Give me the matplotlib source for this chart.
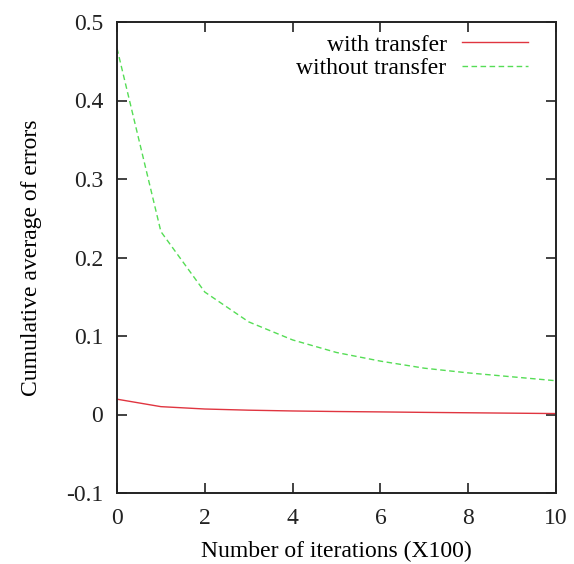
import matplotlib
matplotlib.use("Agg")
import matplotlib.pyplot as plt

iterations = [0, 1, 2, 3, 4, 5, 6, 7, 8, 9, 10]
with_transfer = [0.0195, 0.010, 0.007, 0.0055, 0.0045, 0.0038, 0.0033, 0.0027, 0.0022, 0.0017, 0.0012]
without_transfer = [0.4665, 0.233, 0.156, 0.118, 0.095, 0.079, 0.068, 0.059, 0.053, 0.048, 0.043]
xticks = [0, 2, 4, 6, 8, 10]
yticks = [-0.1, 0, 0.1, 0.2, 0.3, 0.4, 0.5]
ytick_labels = ["-0.1", "0", "0.1", "0.2", "0.3", "0.4", "0.5"]

plt.rcParams['font.family'] = ['Liberation Serif', 'DejaVu Serif']
fig = plt.figure(figsize=(5.74, 5.64), dpi=100)
ax = fig.add_axes([117/574, 1 - 493/564, (556 - 117)/574, (493 - 22)/564])

ax.plot(iterations, with_transfer, color='#e03540', lw=1.0, label='with transfer')
ax.plot(iterations, without_transfer, color='#55dd55', lw=1.0, dashes=(4, 2.5), label='without transfer')

ax.set_xlim(0, 10)
ax.set_ylim(-0.1, 0.5)
ax.set_xticks(xticks)
ax.set_xticklabels([str(t) for t in xticks])
ax.set_yticks(yticks)
ax.set_yticklabels(ytick_labels)
ax.tick_params(direction='in', length=7, width=1.2, top=True, right=True, labelsize=17, colors='#222222')
ax.tick_params(axis='x', pad=11)
ax.tick_params(axis='y', pad=10)
for s in ax.spines.values():
    s.set_linewidth(1.4)
    s.set_color('#222222')

ax.set_xlabel('Number of iterations (X100)', fontsize=17, labelpad=8)
ax.set_ylabel('Cumulative average of errors', fontsize=17, labelpad=17)

leg = ax.legend(loc='upper right', frameon=False, markerfirst=False, fontsize=17,
                handlelength=2.8, handletextpad=0.65, labelspacing=0.1,
                borderaxespad=0.0, borderpad=0.0,
                bbox_to_anchor=((528 - 117) / 439, (493 - 34) / 471))
for t in leg.get_texts():
    t.set_ha('right')

fig.savefig('out.png', dpi=100)
